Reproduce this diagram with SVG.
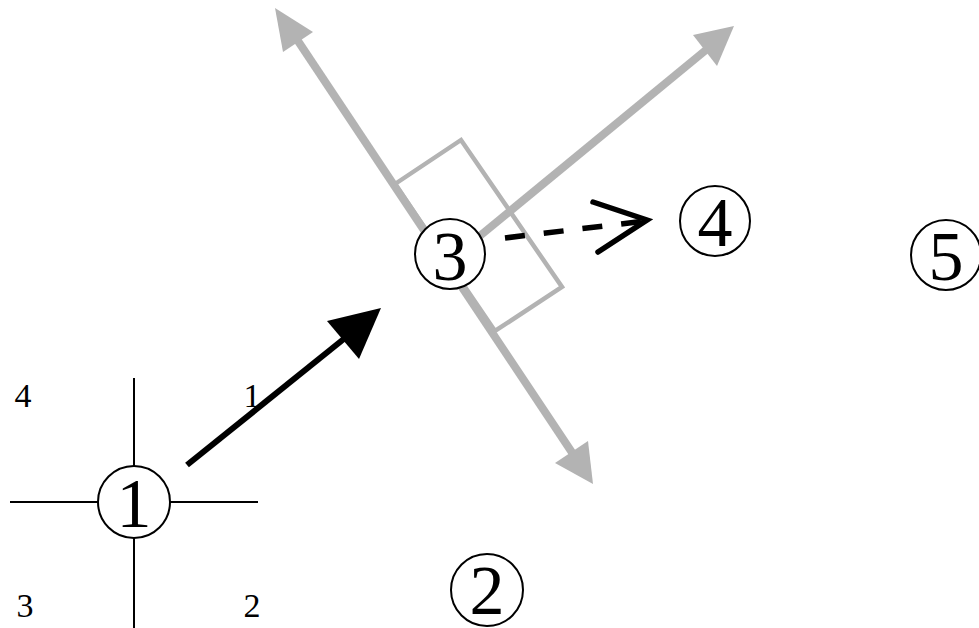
<svg xmlns="http://www.w3.org/2000/svg" width="979" height="628" viewBox="0 0 979 628">
<defs>
<style>
.node circle{fill:#fff;stroke:#000;stroke-width:2}
.node text{font-family:"Liberation Serif","Times New Roman",serif;font-size:70px;text-anchor:middle;fill:#000}
.lbl{font-family:"Liberation Serif","Times New Roman",serif;font-size:34px;text-anchor:middle;fill:#000}
.grey{stroke:#b3b3b3;stroke-width:8;fill:none}
.ghead{fill:#b3b3b3}
.cross{stroke:#000;stroke-width:2}
</style>
</defs>
<rect width="979" height="628" fill="#fff"/>
<g id="connectors">
<line class="cross" x1="10" y1="502" x2="258" y2="502"/>
<line class="cross" x1="134" y1="378" x2="134" y2="628"/>
<line class="grey" x1="290" y1="29" x2="577" y2="460"/>
<polygon class="ghead" points="275,8 313,32 283,52"/>
<polygon class="ghead" points="593,484 555,463 588,441"/>
<line class="grey" x1="470" y1="244" x2="712" y2="45"/>
<polygon class="ghead" points="734,26 693,35 717,66"/>
<polygon points="395,184 461,140 562,287 495,331" fill="none" stroke="#b3b3b3" stroke-width="4.5"/>
<line x1="187" y1="465" x2="345" y2="338" stroke="#000" stroke-width="6"/>
<polygon points="381,308 327,321 359,359" fill="#000"/>
<line x1="505" y1="238" x2="645" y2="221" stroke="#000" stroke-width="5.5" stroke-dasharray="20 19"/>
<polyline points="593,202 647,220 598,252" fill="none" stroke="#000" stroke-width="5.5" stroke-linecap="round" stroke-linejoin="miter"/>
</g>
<g id="node1" class="node"><circle cx="134" cy="502" r="36"/><text x="134" y="527">1</text></g>
<g id="node2" class="node"><circle cx="487" cy="590" r="36"/><text x="487" y="614">2</text></g>
<g id="node3" class="node"><circle cx="450" cy="254" r="35"/><text x="450" y="280">3</text></g>
<g id="node4" class="node"><circle cx="715" cy="221" r="35"/><text x="715" y="246">4</text></g>
<g id="node5" class="node"><circle cx="946" cy="255" r="35"/><text x="946" y="280">5</text></g>
<g id="labels">
<text class="lbl" x="23" y="407">4</text>
<text class="lbl" x="252" y="407">1</text>
<text class="lbl" x="25" y="617">3</text>
<text class="lbl" x="252" y="617">2</text>
</g>
</svg>
